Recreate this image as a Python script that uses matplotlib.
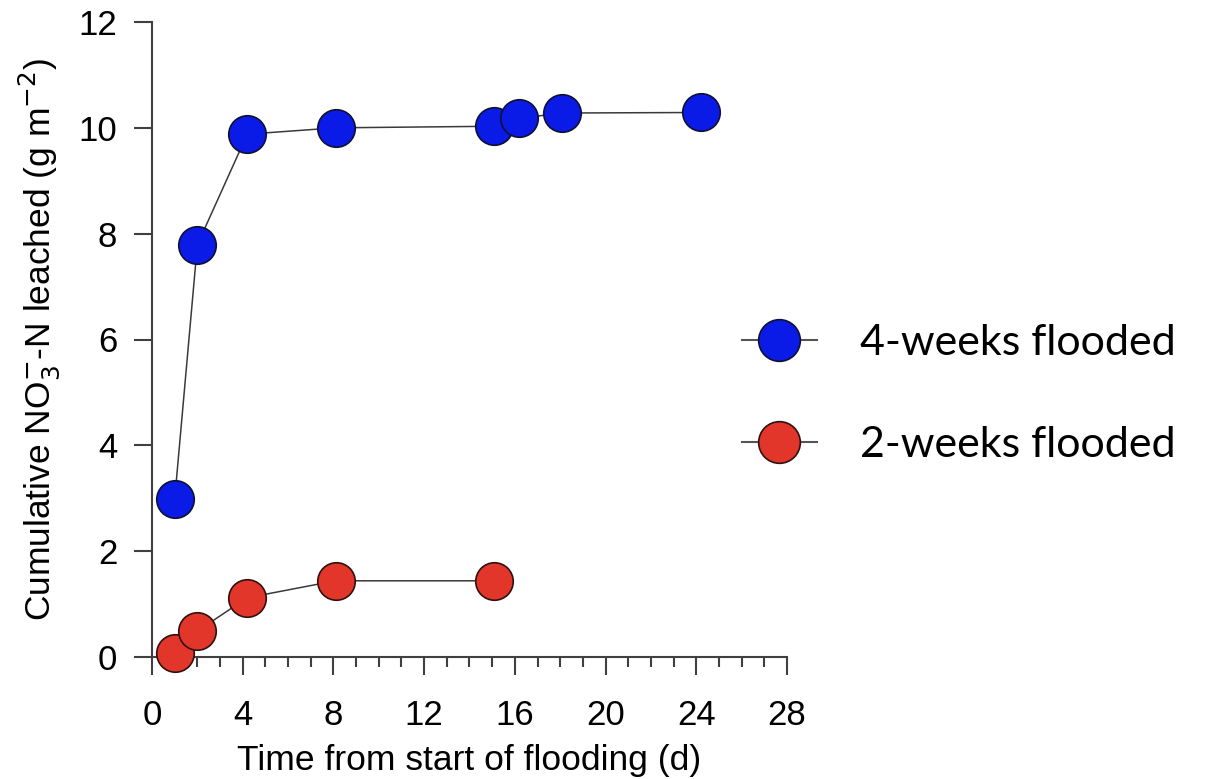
import matplotlib
matplotlib.use("Agg")
import matplotlib.pyplot as plt
from matplotlib.lines import Line2D

days_4w = [1.0, 2.0, 4.2, 8.1, 15.1, 16.2, 18.1, 24.2]
no3_4w = [2.98, 7.79, 9.88, 10.0, 10.03, 10.18, 10.28, 10.29]
days_2w = [1.0, 2.0, 4.2, 8.1, 15.1]
no3_2w = [0.07, 0.49, 1.12, 1.44, 1.44]

labels = ["4-weeks flooded", "2-weeks flooded"]
blue = "#0A1BE8"
red = "#E2362A"

plt.rcParams['font.family'] = ['Liberation Sans', 'DejaVu Sans']

fig = plt.figure(figsize=(12.09, 7.79), dpi=100)
ax = fig.add_axes([152/1209, 1-657/779, (787-152)/1209, (657-22)/779])

ms = 27
ax.plot(days_4w, no3_4w, '-', color='#3a3a3a', lw=1.1, marker='o', ms=ms,
        mfc=blue, mec='#101030', mew=1.2, zorder=3, clip_on=False)
ax.plot(days_2w, no3_2w, '-', color='#3a3a3a', lw=1.1, marker='o', ms=ms,
        mfc=red, mec='#301010', mew=1.2, zorder=3, clip_on=False)

ax.set_xlim(0, 28)
ax.set_ylim(0, 12)
ax.set_xticks(range(0, 29, 4))
ax.set_xticks(range(0, 29, 1), minor=True)
ax.set_yticks(range(0, 13, 2))
for s in ['top', 'right']:
    ax.spines[s].set_visible(False)
for s in ['left', 'bottom']:
    ax.spines[s].set_color('#404040')
    ax.spines[s].set_linewidth(1.5)
ax.tick_params(which='major', direction='out', length=13, width=1.5, color='#404040',
               labelsize=25)
ax.tick_params(which='minor', direction='out', length=7, width=1.5, color='#404040')
ax.tick_params(axis='x', which='major', pad=17)
ax.tick_params(axis='y', which='major', pad=12)
ax.set_xlabel("Time from start of flooding (d)", fontsize=25.5, labelpad=9)
ax.set_ylabel("Cumulative NO$_3^{-}$-N leached (g m$^{-2}$)", fontsize=25.5, labelpad=12)

handles = [
    Line2D([], [], color='#555555', lw=1.5, marker='o', ms=30, mfc=blue, mec='#101030', mew=1.2),
    Line2D([], [], color='#555555', lw=1.5, marker='o', ms=30, mfc=red, mec='#301010', mew=1.2),
]
fig.legend(handles, labels, loc='center left', bbox_to_anchor=(703/1209, 1-394/779),
           frameon=False, prop={'family': 'Lato', 'size': 31}, handlelength=1.75,
           handletextpad=1.0, labelspacing=1.5)

fig.savefig("out.png", dpi=100)
